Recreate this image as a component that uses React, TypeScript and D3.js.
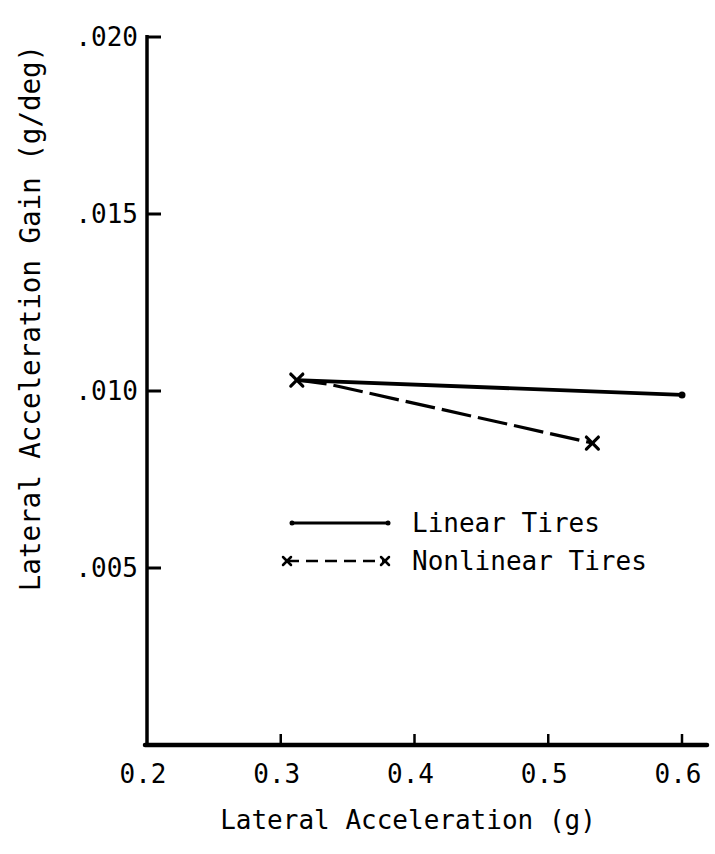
import React from 'react';
import * as d3 from 'd3';

const xTicks = [0.2, 0.3, 0.4, 0.5, 0.6];
const xTickLabels = ['0.2', '0.3', '0.4', '0.5', '0.6'];
const yTicks = [0.005, 0.01, 0.015, 0.02];
const yTickLabels = ['.005', '.010', '.015', '.020'];
const linearX = [0.312, 0.6];
const linearY = [0.01031, 0.00989];
const nonlinearX = [0.312, 0.335, 0.533];
const nonlinearY = [0.01031, 0.0102, 0.00853];
const legendLabels = ['Linear Tires', 'Nonlinear Tires'];

const FONT = "'DejaVu Sans Mono', monospace";

function XMark({ x, y, s = 6, w = 3.2 }: { x: number; y: number; s?: number; w?: number }) {
  return (
    <g stroke="#000" strokeWidth={w} strokeLinecap="round">
      <line x1={x - s} y1={y - s} x2={x + s} y2={y + s} />
      <line x1={x - s} y1={y + s} x2={x + s} y2={y - s} />
    </g>
  );
}

export default function App() {
  const x = d3.scaleLinear().domain([0.2, 0.6]).range([147, 682]);
  const y = d3.scaleLinear().domain([0, 0.02]).range([745, 37]);
  const line = d3.line<[number, number]>().x(d => x(d[0])).y(d => y(d[1]));
  const linPts = linearX.map((v, i) => [v, linearY[i]] as [number, number]);
  const nonPts = nonlinearX.map((v, i) => [v, nonlinearY[i]] as [number, number]);
  const n = nonlinearX.length - 1;

  return (
    <svg width={715} height={854} style={{ position: 'absolute', left: 0, top: 0, background: '#fff' }}>
      <rect width={715} height={854} fill="#fff" />
      {/* axes */}
      <line x1={x(0.2)} y1={y(0.02) - 2} x2={x(0.2)} y2={y(0)} stroke="#000" strokeWidth={3.5} />
      <line x1={x(0.2) - 2} y1={y(0)} x2={707} y2={y(0)} stroke="#000" strokeWidth={4.5} strokeLinecap="round" />
      {yTicks.map((t, i) => (
        <g key={'y' + i}>
          <line x1={x(0.2)} y1={y(t)} x2={x(0.2) + 14} y2={y(t)} stroke="#000" strokeWidth={3} />
          <text x={x(0.2) - 9} y={y(t)} textAnchor="end" dominantBaseline="central" fontFamily={FONT} fontSize={26}>
            {yTickLabels[i]}
          </text>
        </g>
      ))}
      {xTicks.map((t, i) => (
        <g key={'x' + i}>
          {i > 0 && <line x1={x(t)} y1={y(0)} x2={x(t)} y2={y(0) - 11} stroke="#000" strokeWidth={2.5} />}
          <text x={x(t) - 4} y={y(0) + 29} textAnchor="middle" dominantBaseline="central" fontFamily={FONT} fontSize={26}>
            {xTickLabels[i]}
          </text>
        </g>
      ))}
      <text x={408} y={820} textAnchor="middle" dominantBaseline="central" fontFamily={FONT} fontSize={26}>
        Lateral Acceleration (g)
      </text>
      <text transform={`translate(30,${318}) rotate(-90)`} textAnchor="middle" dominantBaseline="central" fontFamily={FONT} fontSize={27.5}>
        Lateral Acceleration Gain (g/deg)
      </text>
      {/* data */}
      <path d={line(linPts) || ''} fill="none" stroke="#000" strokeWidth={3.8} />
      <path d={line(nonPts) || ''} fill="none" stroke="#000" strokeWidth={3.2} strokeDasharray="30 7" />
      <circle cx={x(linearX[1])} cy={y(linearY[1])} r={3.5} fill="#000" />
      <XMark x={x(nonlinearX[0])} y={y(nonlinearY[0])} />
      <XMark x={x(nonlinearX[n])} y={y(nonlinearY[n])} />
      {/* legend */}
      <g>
        <line x1={292} y1={523} x2={388} y2={523} stroke="#000" strokeWidth={3} />
        <circle cx={292} cy={523} r={2.5} fill="#000" />
        <circle cx={388} cy={523} r={2.5} fill="#000" />
        <text x={412} y={523} dominantBaseline="central" fontFamily={FONT} fontSize={26}>{legendLabels[0]}</text>
        <line x1={287} y1={561} x2={385} y2={561} stroke="#000" strokeWidth={2.5} strokeDasharray="12 7" />
        <XMark x={287} y={561} s={4} w={2.5} />
        <XMark x={385} y={561} s={4} w={2.5} />
        <text x={412} y={561} dominantBaseline="central" fontFamily={FONT} fontSize={26}>{legendLabels[1]}</text>
      </g>
    </svg>
  );
}
